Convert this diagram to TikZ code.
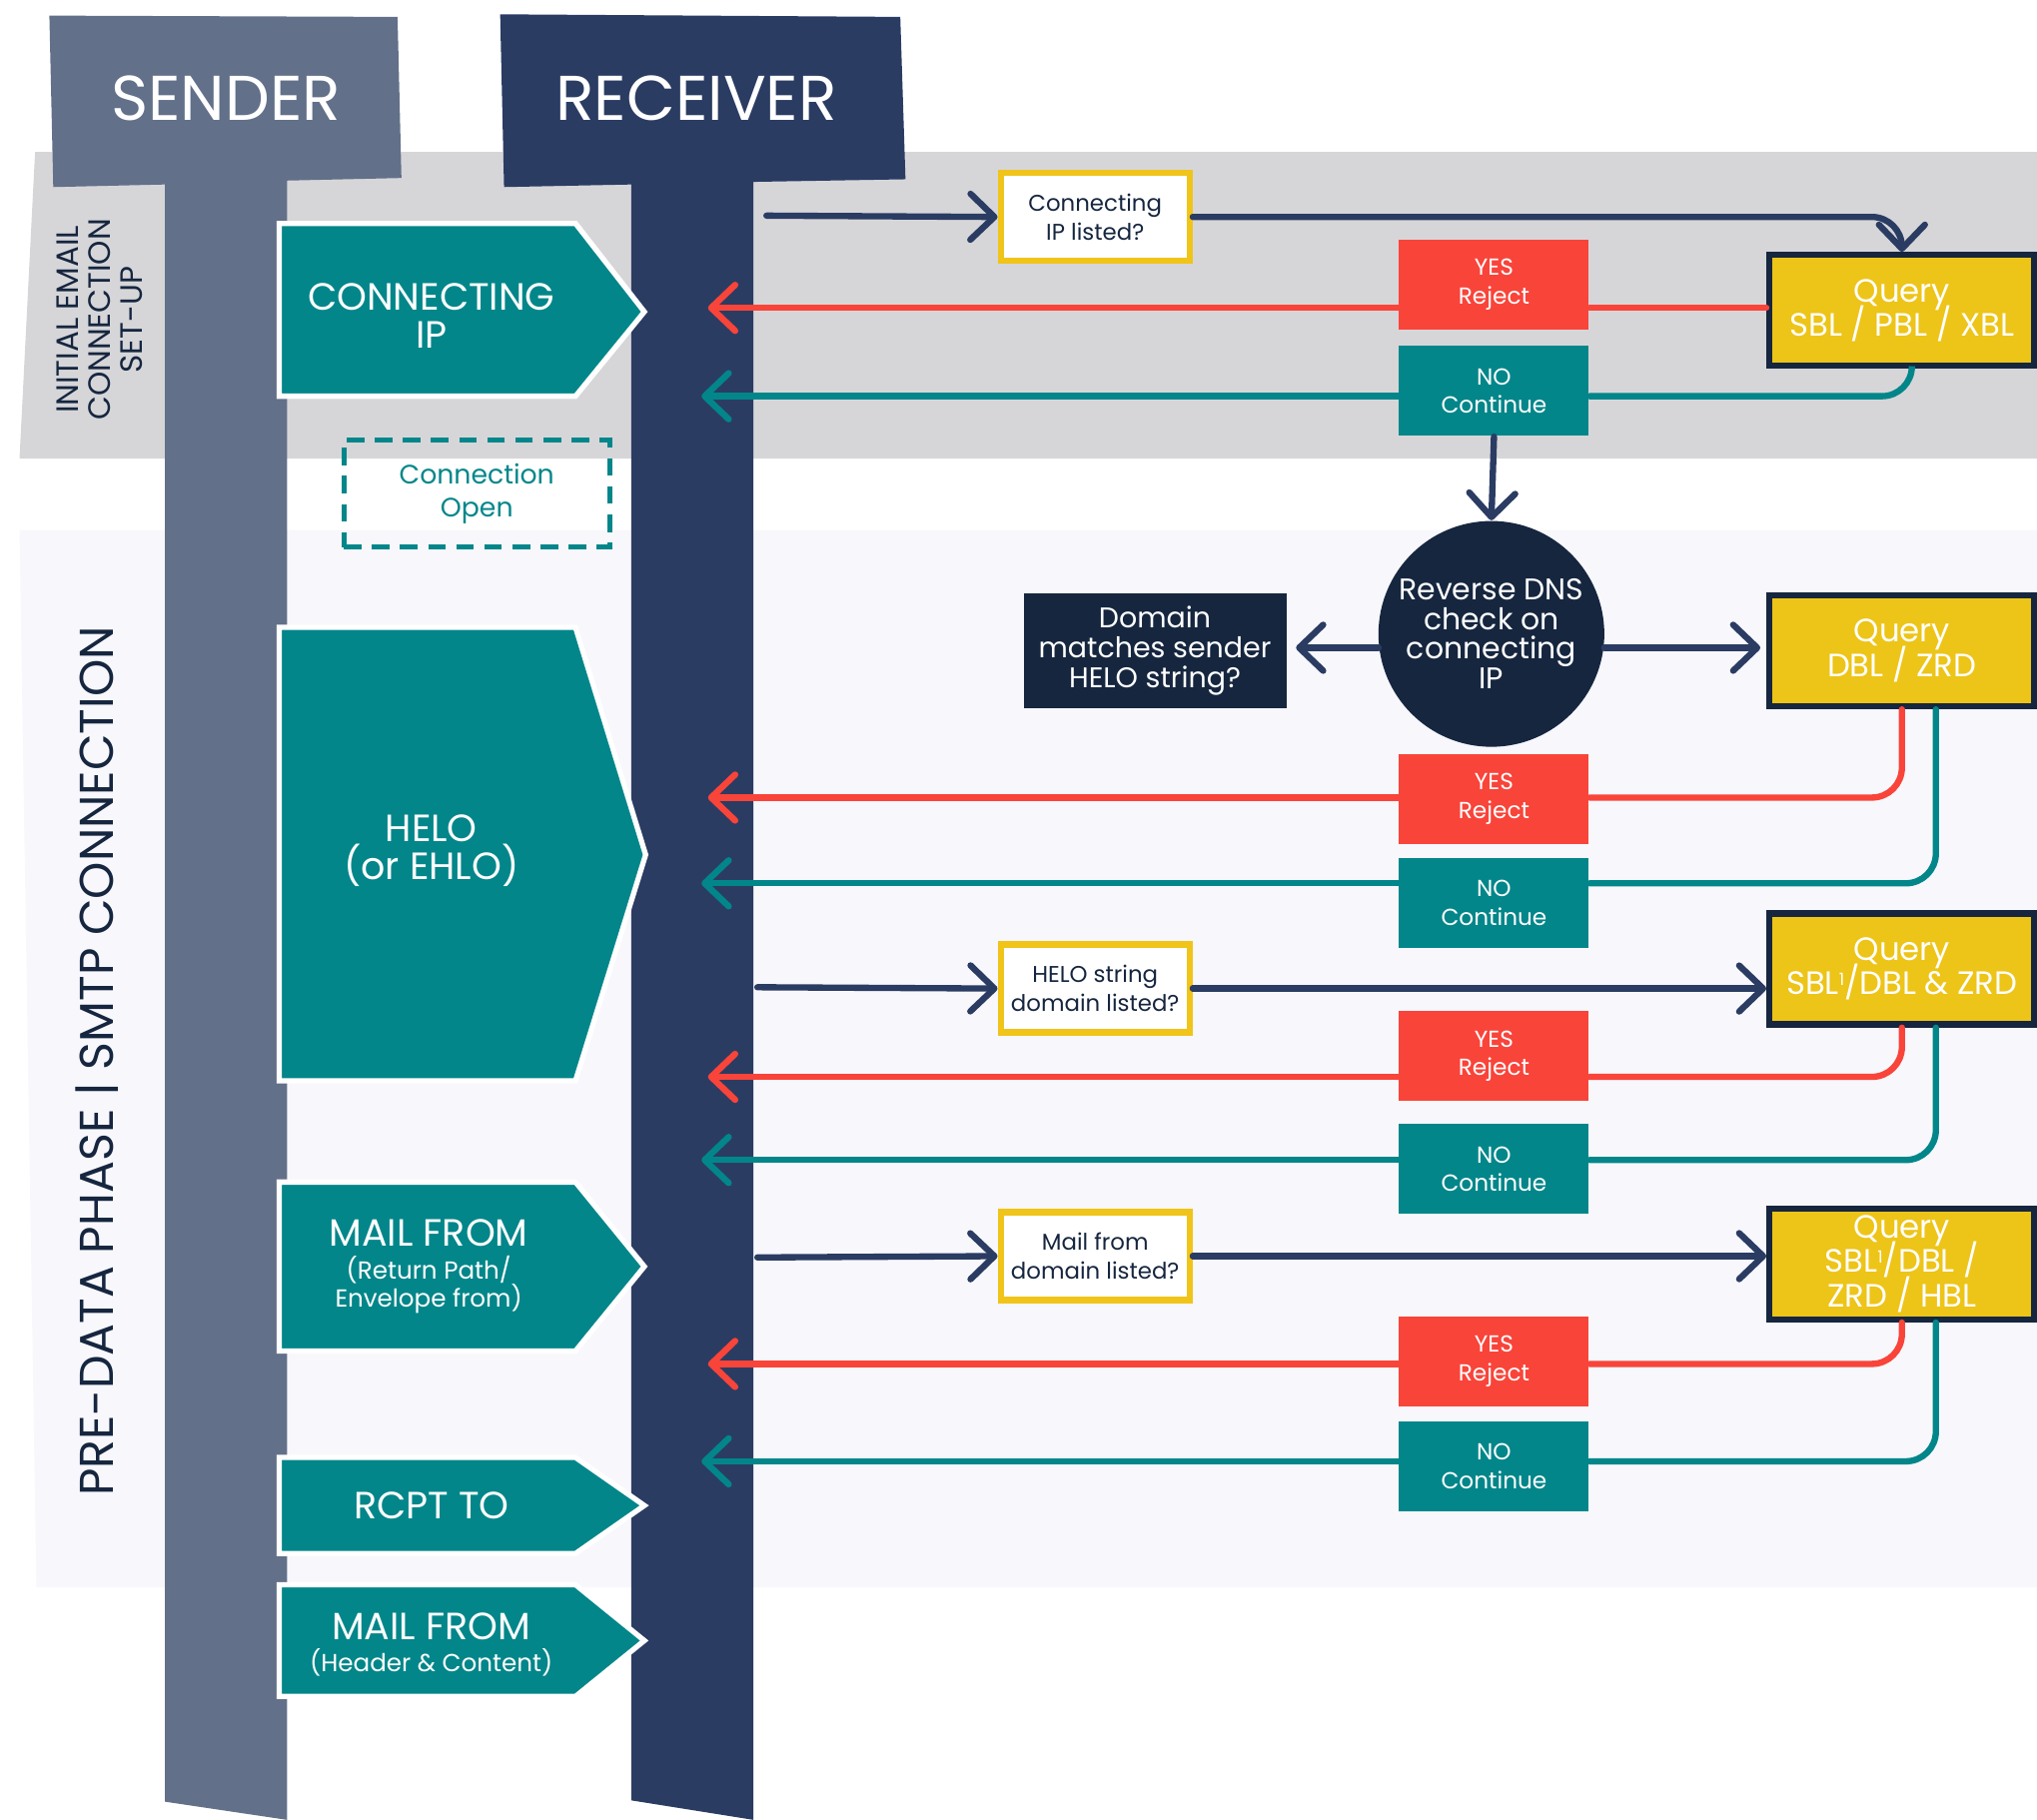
\documentclass[tikz,border=0pt]{standalone}
\usepackage{fontspec}
\setmainfont{Poppins}
\usetikzlibrary{arrows.meta}
\definecolor{slateS}{HTML}{627089}
\definecolor{navyR}{HTML}{2B3C63}
\definecolor{navyD}{HTML}{16263F}
\definecolor{tealP}{HTML}{02868A}
\definecolor{redY}{HTML}{F9443A}
\definecolor{goldQ}{HTML}{EDC418}
\definecolor{goldB}{HTML}{F0C419}
\definecolor{bandG}{HTML}{D6D6D9}
\definecolor{bandL}{HTML}{F7F7FC}
\newcommand\stepsub{\fontsize{7}{8.1}\selectfont}
\newcommand\supone{\raisebox{0.3em}{\fontsize{4.8}{5}\selectfont 1}}
\lineskiplimit=-100pt

\begin{document}
\begin{tikzpicture}[x=0.13mm,y=-0.13mm,
  flow/.style={line width=1.8pt,line cap=round},
  tip/.style={-{Straight Barb[length=2.4mm,width=4.6mm,round]}},
  ask/.style={draw=goldB,fill=white,line width=1.8pt,minimum width=18.9mm,minimum height=8.8mm,inner sep=0pt,align=center,text=navyD,font=\fontsize{6.5}{8.1}\selectfont},
  yes/.style={fill=redY,minimum width=19mm,minimum height=9mm,inner sep=0pt,align=center,text=white,font=\fontsize{6.6}{8.1}\selectfont},
  no/.style={yes,fill=tealP},
  query/.style={draw=navyD,fill=goldQ,line width=1.8pt,minimum width=26.5mm,minimum height=11.1mm,inner sep=0pt,align=center,text=white,font=\fontsize{9.2}{9.8}\selectfont},
  stage/.style={fill=tealP,draw=white,line width=1.5pt},
  stagetxt/.style={align=center,text=white,font=\fontsize{10.8}{11}\selectfont}]
  \useasboundingbox (0,0) rectangle (1568,1401);
  % phase bands
  \fill[bandG] (27,117) -- (1568,117) -- (1568,353) -- (15,353) -- cycle;
  \fill[bandL] (15,408) -- (1568,408) -- (1568,1222) -- (28,1222) -- cycle;
  \node[rotate=90,align=center,text=navyD,font=\fontsize{8.8}{9.1}\selectfont] (initlab) at (77,246) {INITIAL EMAIL\\CONNECTION\\SET-UP};
  \node[rotate=90,text=navyD,font=\fontsize{13.5}{15}\selectfont] (smtplab) at (75,817) {PRE-DATA PHASE | SMTP CONNECTION};

  % lifelines
  \fill[slateS] (38,12) -- (306,13) -- (309,137) -- (221,139) -- (221,1401) -- (127,1387) -- (127,142) -- (41,144) -- cycle;
  \fill[navyR] (385,11) -- (693,13) -- (697,138) -- (580,140) -- (580,1401) -- (486,1386) -- (486,142) -- (388,144) -- cycle;
  \node[text=white,font=\fontsize{18}{20}\selectfont] (sender) at (174,76) {SENDER};
  \node[text=white,font=\fontsize{18}{20}\selectfont] (receiver) at (536,76) {RECEIVER};

  % sender steps
  \filldraw[stage] (215,172) -- (443,172) -- (496,240) -- (443,305) -- (215,305) -- cycle;
  \filldraw[stage] (215,483) -- (443,483) -- (497,658) -- (443,832) -- (215,832) -- cycle;
  \filldraw[stage] (215,910) -- (443,910) -- (496,975) -- (443,1040) -- (215,1040) -- cycle;
  \filldraw[stage] (215,1122) -- (443,1122) -- (496,1159) -- (443,1196) -- (215,1196) -- cycle;
  \filldraw[stage] (215,1220) -- (443,1220) -- (496,1263) -- (443,1306) -- (215,1306) -- cycle;
  \node[stagetxt] (connip) at (332,243) {CONNECTING\\IP};
  \node[stagetxt] (helo) at (332,655) {HELO\\(or EHLO)};
  \node[stagetxt] (mailfrom) at (330,975) {MAIL FROM\\[-1.8pt]{\stepsub (Return Path/}\\[-2.9pt]{\stepsub Envelope from)}};
  \node[stagetxt] (rcpt) at (332,1159) {RCPT TO};
  \node[stagetxt] (mailhdr) at (332,1266) {MAIL FROM\\[-1.8pt]{\stepsub (Header \& Content)}};
  \node[draw=tealP,dash pattern=on 5pt off 3pt,line width=1.5pt,minimum width=26.6mm,minimum height=10.7mm,align=center,text=tealP,font=\fontsize{7.6}{9.2}\selectfont] (connopen) at (367,380) {Connection\\Open};

  % receiver checks
  \node[ask] (ask1) at (843,167) {Connecting\\IP listed?};
  \node[ask] (ask2) at (843,761) {HELO string\\domain listed?};
  \node[ask] (ask3) at (843,967) {Mail from\\domain listed?};
  \node[query] (q1) at (1464,239) {Query\\SBL / PBL / XBL};
  \node[query] (q2) at (1464,501) {Query\\DBL / ZRD};
  \node[query] (q3) at (1464,746) {Query\\SBL\supone/DBL \& ZRD};
  \node[query] (q4) at (1464,973) {Query\\SBL\supone/DBL /\\ZRD / HBL};
  \node[yes] (yes1) at (1150,219) {YES\\Reject};
  \node[no] (no1) at (1150,301) {NO\\Continue};
  \node[yes] (yes2) at (1150,615) {YES\\Reject};
  \node[no] (no2) at (1150,695) {NO\\Continue};
  \node[yes] (yes3) at (1150,813) {YES\\Reject};
  \node[no] (no3) at (1150,900) {NO\\Continue};
  \node[yes] (yes4) at (1150,1048) {YES\\Reject};
  \node[no] (no4) at (1150,1129) {NO\\Continue};
  \node[circle,fill=navyD,minimum size=22.6mm,inner sep=0pt,align=center,text=white,font=\fontsize{8.5}{8.4}\selectfont] (rdns) at (1148,488) {Reverse DNS\\check on\\connecting\\IP};
  \node[fill=navyD,minimum width=26.3mm,minimum height=11.4mm,inner sep=0pt,align=center,text=white,font=\fontsize{8.1}{8.5}\selectfont] (dom) at (889,501) {Domain\\matches sender\\HELO string?};

  \coordinate (s1) at (590,166);
  \coordinate (s2) at (583,760);
  \coordinate (s3) at (583,968);
  \coordinate (r1) at (545,237);
  \coordinate (r2) at (540,305);
  \coordinate (r3) at (545,614);
  \coordinate (r4) at (540,680);
  \coordinate (r5) at (545,829);
  \coordinate (r6) at (540,893);
  \coordinate (r7) at (545,1050);
  \coordinate (r8) at (540,1125);

  % connecting IP
  \draw[flow,navyR,tip] (s1) -- (ask1.west);
  \draw[flow,navyR,tip,rounded corners=3mm] (ask1.east) -| (q1.north);
  \draw[flow,redY] (q1.west |- r1) -- (yes1.east |- r1);
  \draw[flow,redY,tip] (yes1.west |- r1) -- (r1);
  \draw[flow,tealP,rounded corners=3mm] ([xshift=1mm]q1.south) |- (no1.east |- r2);
  \draw[flow,tealP,tip] (no1.west |- r2) -- (r2);
  \draw[flow,navyR,tip] (no1.south) -- (rdns.north);
  \draw[flow,navyR,tip,shorten >=0.9mm] (rdns.187) -- (dom.east |- rdns.187);
  \draw[flow,navyR,tip,shorten >=0.6mm] (rdns.353) -- (q2.west |- rdns.353);

  % HELO
  \draw[flow,redY,rounded corners=3mm] (q2.south) |- (yes2.east |- r3);
  \draw[flow,redY,tip] (yes2.west |- r3) -- (r3);
  \draw[flow,tealP,rounded corners=3mm] ([xshift=3.4mm]q2.south) |- (no2.east |- r4);
  \draw[flow,tealP,tip] (no2.west |- r4) -- (r4);
  \draw[flow,navyR,tip] (s2) -- (ask2.west);
  \draw[flow,navyR,tip] (ask2.east) -- (q3.west |- ask2.east);
  \draw[flow,redY,rounded corners=3mm] (q3.south) |- (yes3.east |- r5);
  \draw[flow,redY,tip] (yes3.west |- r5) -- (r5);
  \draw[flow,tealP,rounded corners=3mm] ([xshift=3.4mm]q3.south) |- (no3.east |- r6);
  \draw[flow,tealP,tip] (no3.west |- r6) -- (r6);

  % MAIL FROM
  \draw[flow,navyR,tip] (s3) -- (ask3.west);
  \draw[flow,navyR,tip] (ask3.east) -- (q4.west |- ask3.east);
  \draw[flow,redY,rounded corners=3mm] (q4.south) |- (yes4.east |- r7);
  \draw[flow,redY,tip] (yes4.west |- r7) -- (r7);
  \draw[flow,tealP,rounded corners=3mm] ([xshift=3.4mm]q4.south) |- (no4.east |- r8);
  \draw[flow,tealP,tip] (no4.west |- r8) -- (r8);
\end{tikzpicture}
\end{document}
